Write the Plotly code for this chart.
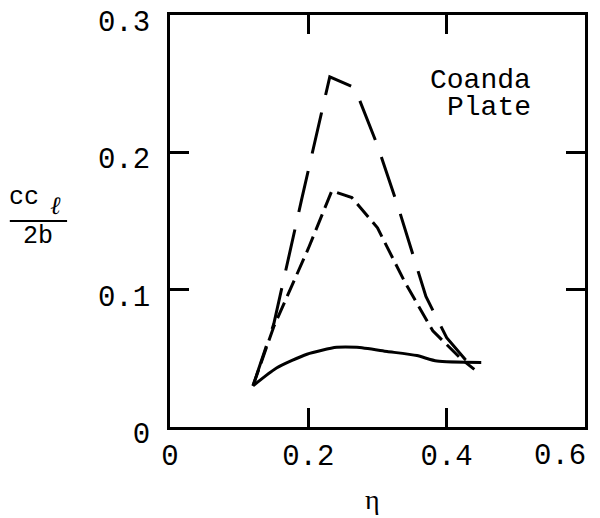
import plotly.graph_objects as go

# eta vs cc_l/2b
ETA_SOLID = [0.12, 0.154, 0.198, 0.241, 0.270, 0.314, 0.357, 0.386, 0.450]
CCL_SOLID = [0.030, 0.043, 0.053, 0.058, 0.058, 0.055, 0.052, 0.048, 0.047]

ETA_LONG = [0.12, 0.15, 0.19, 0.231, 0.267, 0.30, 0.33, 0.37, 0.40, 0.444]
CCL_LONG = [0.030, 0.075, 0.165, 0.255, 0.247, 0.205, 0.160, 0.095, 0.065, 0.039]

ETA_SHORT = [0.12, 0.15, 0.20, 0.234, 0.263, 0.30, 0.34, 0.38, 0.42, 0.44]
CCL_SHORT = [0.030, 0.073, 0.130, 0.172, 0.167, 0.145, 0.105, 0.070, 0.050, 0.042]

X_TICKS = [0, 0.2, 0.4, 0.6]
X_TICK_TEXT = ["0", "0.2", "0.4", "0.6"]
Y_TICKS = [0, 0.1, 0.2, 0.3]
Y_TICK_TEXT = ["0", "0.1", "0.2", "0.3"]

MONO = "Liberation Mono, Courier New, monospace"
SERIF = "Liberation Serif, DejaVu Serif, serif"

fig = go.Figure()

fig.add_trace(go.Scatter(x=ETA_SOLID, y=CCL_SOLID, mode="lines",
                         line=dict(color="black", width=3, shape="spline", smoothing=0.6)))
fig.add_trace(go.Scatter(x=ETA_LONG, y=CCL_LONG, mode="lines",
                         line=dict(color="black", width=3, dash="42px,18px")))
fig.add_trace(go.Scatter(x=ETA_SHORT, y=CCL_SHORT, mode="lines",
                         line=dict(color="black", width=3, dash="17px,7px")))

axis_common = dict(
    showgrid=False, zeroline=False, automargin=False, ticklabeloverflow="allow",
    showline=True, linecolor="black", linewidth=3, mirror="ticks",
    ticks="inside", ticklen=19, tickwidth=3, tickcolor="black",
    tickfont=dict(family=MONO, size=29, color="black"),
)

# last x label would run off the page centred on its tick, so it is drawn
# right-aligned to the tick as an annotation instead
fig.update_xaxes(range=[0, 0.6], tickvals=X_TICKS,
                 ticktext=X_TICK_TEXT[:-1] + [""],
                 ticklabelstandoff=0, **axis_common)
fig.update_yaxes(range=[0, 0.3], tickvals=Y_TICKS, ticktext=Y_TICK_TEXT,
                 ticklabelstandoff=11, ticklabelshift=6, **axis_common)

fig.add_annotation(xref="x", yref="paper", x=X_TICKS[-1], y=-0.072,
                   text=X_TICK_TEXT[-1], showarrow=False,
                   xanchor="right", yanchor="middle", xshift=3,
                   font=dict(family=MONO, size=29, color="black"))


def label(x, y, text, family, size):
    fig.add_annotation(xref="paper", yref="paper", x=x, y=y, text=text,
                       showarrow=False, xanchor="center", yanchor="middle",
                       font=dict(family=family, size=size, color="black"))


# y label as a stacked fraction: cc_l over 2b
label(-0.352, 0.558, "cc", MONO, 25)
label(-0.275, 0.538, "<i>ℓ</i>", SERIF, 25)
fig.add_shape(type="line", xref="paper", yref="paper",
              x0=-0.386, x1=-0.248, y0=0.5, y1=0.5,
              line=dict(color="black", width=2))
label(-0.318, 0.462, "2b", MONO, 25)

fig.add_annotation(xref="paper", yref="paper", x=0.874, y=(427 - 80) / 412,
                   text="Coanda", showarrow=False,
                   xanchor="right", yanchor="middle",
                   font=dict(family=MONO, size=28, color="black"))
fig.add_annotation(xref="paper", yref="paper", x=0.874, y=(427 - 107) / 412,
                   text="Plate", showarrow=False,
                   xanchor="right", yanchor="middle",
                   font=dict(family=MONO, size=28, color="black"))

label(0.489, -0.175, "η", SERIF, 28)

# page body has an 8px margin, so the figure is drawn 8px in and down
fig.update_layout(
    width=600, height=518,
    margin=dict(l=162, r=23, t=7, b=99),
    plot_bgcolor="white", paper_bgcolor="white",
    showlegend=False,
)

fig.write_html("out.html")
